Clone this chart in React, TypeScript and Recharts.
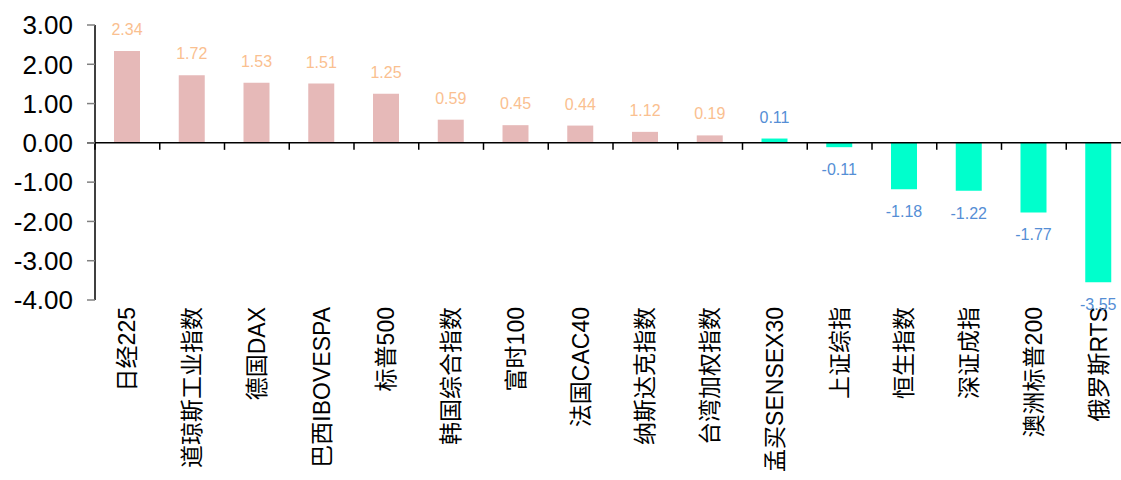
import { BarChart, Bar, XAxis, YAxis, Cell, LabelList, ReferenceLine } from 'recharts'

// 指数名称
const categories = [
  '日经225', '道琼斯工业指数', '德国DAX', '巴西IBOVESPA', '标普500', '韩国综合指数', '富时100', '法国CAC40',
  '纳斯达克指数', '台湾加权指数', '孟买SENSEX30', '上证综指', '恒生指数', '深证成指', '澳洲标普200', '俄罗斯RTS',
]
// 柱高
const values = [2.34, 1.72, 1.53, 1.51, 1.25, 0.59, 0.45, 0.44, 0.28, 0.19, 0.11, -0.11, -1.18, -1.22, -1.77, -3.55]
// 数据标签（原图标注文字）
const labels = ['2.34', '1.72', '1.53', '1.51', '1.25', '0.59', '0.45', '0.44', '1.12', '0.19', '0.11', '-0.11', '-1.18', '-1.22', '-1.77', '-3.55']
const yTicks = [-4, -3, -2, -1, 0, 1, 2, 3]

const FONT = '"Liberation Sans", Arial, "Noto Sans CJK SC", sans-serif'
const warmCount = 10

const data = categories.map((name, i) => ({ name, value: values[i], label: labels[i] }))

const CategoryTick = ({ x, y, payload }: any) => (
  <text
    x={x}
    y={y}
    transform={`rotate(-90, ${x}, ${y})`}
    textAnchor="end"
    dominantBaseline="central"
    fontSize={23}
    fontFamily={FONT}
    fill="#000"
  >
    {payload.value}
  </text>
)

const ZeroLine = (props: any) => {
  const { x1, y1, x2 } = props
  const n = categories.length
  const step = (x2 - x1) / n
  return (
    <g>
      <line x1={x1 - 8} y1={y1} x2={x2} y2={y1} stroke="#000" strokeWidth={1.5} />
      {Array.from({ length: n + 1 }, (_, i) => (
        <line key={i} x1={x1 + i * step} y1={y1} x2={x1 + i * step} y2={y1 + 7} stroke="#000" strokeWidth={1.5} />
      ))}
    </g>
  )
}

const ValueLabel = (props: any) => {
  const vb = props.viewBox ?? props
  const { x, y, width, height } = vb
  const i = props.index
  const top = Math.min(y, y + height)
  const bottom = Math.max(y, y + height)
  const up = values[i] >= 0
  return (
    <text
      x={x + width / 2}
      y={up ? top - 16 : bottom + 28}
      textAnchor="middle"
      fontSize={16}
      fontFamily={FONT}
      fill={i < warmCount ? '#FAC090' : '#558ED5'}
    >
      {props.value}
    </text>
  )
}

export default function App() {
  return (
    <div style={{ position: 'fixed', left: 0, top: 0, width: 1121, height: 480, overflow: 'hidden', background: '#fff' }}>
      <BarChart width={1131} height={480} data={data} margin={{ top: 25, right: 0, left: 0, bottom: 0 }}>
        <YAxis
          domain={[-4, 3]}
          ticks={yTicks}
          width={95}
          interval={0}
          tickSize={8}
          tickMargin={14}
          tickFormatter={(v: number) => v.toFixed(2)}
          tick={{ fontSize: 26, fill: '#000', fontFamily: FONT }}
          axisLine={{ stroke: '#000', strokeWidth: 1.5 }}
          tickLine={{ stroke: '#808080', strokeWidth: 1.5 }}
        />
        <XAxis
          dataKey="name"
          height={180}
          interval={0}
          axisLine={false}
          tickLine={false}
          tickSize={0}
          tickMargin={7}
          tick={<CategoryTick />}
        />
        <ReferenceLine y={0} shape={<ZeroLine />} />
        <Bar dataKey="value" barSize={26} isAnimationActive={false}>
          {data.map((d, i) => (
            <Cell key={d.name} fill={i < warmCount ? '#E6B9B8' : '#00FFCC'} />
          ))}
          <LabelList dataKey="label" content={<ValueLabel />} />
        </Bar>
      </BarChart>
    </div>
  )
}
